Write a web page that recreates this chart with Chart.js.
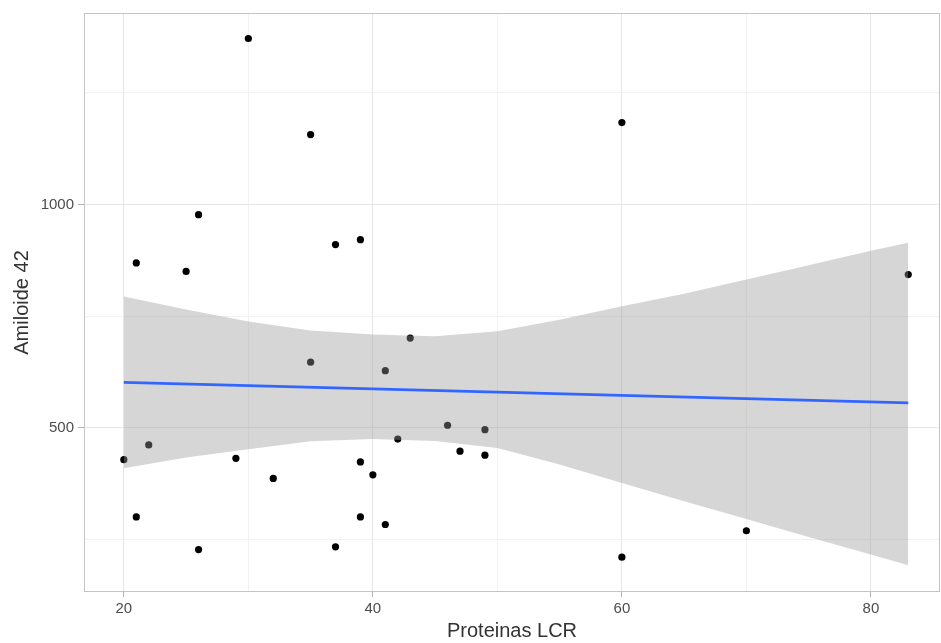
<!DOCTYPE html>
<html>
<head>
<meta charset="utf-8">
<script src="https://cdn.jsdelivr.net/npm/chart.js@4/dist/chart.umd.min.js"></script>
<style>
  html, body { margin: 0; padding: 0; background: #fff; }
  #chart { display: block; }
</style>
</head>
<body>
<canvas id="chart" width="941" height="643"></canvas>
<script>
// scatter points: Proteinas LCR vs Amiloide 42
const proteinas = [30, 35, 60, 26, 21, 25, 37, 39, 83, 35, 43, 41, 46, 49, 22,
                   20, 29, 42, 47, 49, 39, 40, 32, 21, 39, 41, 37, 26, 60, 70];
const amiloide = [1371, 1156, 1183, 977, 869, 850, 910, 921, 843, 647, 701, 628, 506, 496, 462,
                  429, 432, 475, 448, 439, 424, 395, 387, 301, 301, 284, 234, 228, 211, 270];

// fitted line (lm) and its confidence band
const fitX = [20, 83];
const fitY = [602, 556];
const bandX = [20, 25, 30, 35, 40, 45, 50, 55, 60, 65, 70, 75, 80, 83];
const bandUpper = [794, 765, 738, 718, 709, 705, 716, 742, 772, 800, 832, 864, 896, 914];
const bandLower = [410, 434, 452, 470, 475, 471, 455, 418, 377, 336, 296, 256, 217, 193];

// axis breaks: major ones get a label, minor ones only a gridline
const xMajor = [20, 40, 60, 80];
const xMinor = [30, 50, 70];
const yMajor = [500, 1000];
const yMinor = [250, 750, 1250];

const pts = (xs, ys) => xs.map((x, i) => ({ x: x, y: ys[i] }));

const panelBorder = {
    id: "panelBorder",
    afterDatasetsDraw(chart) {
        const a = chart.chartArea;
        const ctx = chart.ctx;
        ctx.save();
        ctx.strokeStyle = "#c4c4c4";
        ctx.lineWidth = 1;
        ctx.strokeRect(a.left + 0.5, a.top + 0.5, a.right - a.left - 1, a.bottom - a.top - 1);
        ctx.restore();
    },
};

const isMajor = (list, v) => list.includes(v);

new Chart(document.querySelector("#chart").getContext("2d"), {
    type: "scatter",
    data: {
        datasets: [
            {
                label: "points",
                data: pts(proteinas, amiloide),
                backgroundColor: "#000",
                borderColor: "#000",
                pointRadius: 3.6,
                pointBorderWidth: 0,
                order: 3,
            },
            {
                label: "upper",
                data: pts(bandX, bandUpper),
                showLine: true,
                pointRadius: 0,
                borderWidth: 0,
                borderColor: "rgba(0,0,0,0)",
                backgroundColor: "rgba(153,153,153,0.4)",
                fill: "+1",
                order: 2,
            },
            {
                label: "lower",
                data: pts(bandX, bandLower),
                showLine: true,
                pointRadius: 0,
                borderWidth: 0,
                borderColor: "rgba(0,0,0,0)",
                fill: false,
                order: 2,
            },
            {
                label: "fit",
                data: pts(fitX, fitY),
                showLine: true,
                pointRadius: 0,
                borderColor: "#3366FF",
                borderWidth: 2.8,
                fill: false,
                order: 1,
            },
        ],
    },
    options: {
        responsive: false,
        animation: false,
        devicePixelRatio: 1,
        layout: { autoPadding: false, padding: { top: 11, right: 1, left: 0, bottom: 0 } },
        plugins: {
            legend: { display: false },
            tooltip: { enabled: false },
        },
        scales: {
            x: {
                type: "linear",
                min: 16.8,
                max: 85.55,
                afterBuildTicks: (s) => {
                    s.ticks = [...xMajor, ...xMinor].sort((a, b) => a - b).map((v) => ({ value: v }));
                },
                afterFit: (s) => { s.height = 51; },
                ticks: {
                    autoSkip: false,
                    maxRotation: 0,
                    padding: 3,
                    color: "#4d4d4d",
                    font: { family: "Liberation Sans", size: 15 },
                    callback: (v) => (isMajor(xMajor, v) ? String(v) : ""),
                },
                grid: {
                    color: (c) => (isMajor(xMajor, c.tick.value) ? "#e6e6e6" : "#f2f2f2"),
                    lineWidth: 1,
                    tickLength: 5,
                    tickColor: (c) => (isMajor(xMajor, c.tick.value) ? "#b3b3b3" : "rgba(0,0,0,0)"),
                },
                border: { display: false },
                title: {
                    display: true,
                    text: "Proteinas LCR",
                    color: "#333",
                    font: { family: "Liberation Sans", size: 20 },
                    padding: { top: 3, bottom: 0 },
                },
            },
            y: {
                type: "linear",
                min: 133,
                max: 1428,
                afterBuildTicks: (s) => {
                    s.ticks = [...yMajor, ...yMinor].sort((a, b) => a - b).map((v) => ({ value: v }));
                },
                afterFit: (s) => { s.width = 84; },
                ticks: {
                    autoSkip: false,
                    padding: 4,
                    color: "#4d4d4d",
                    font: { family: "Liberation Sans", size: 15 },
                    callback: (v) => (isMajor(yMajor, v) ? String(v) : ""),
                },
                grid: {
                    color: (c) => (isMajor(yMajor, c.tick.value) ? "#e6e6e6" : "#f2f2f2"),
                    lineWidth: 1,
                    tickLength: 6,
                    tickColor: (c) => (isMajor(yMajor, c.tick.value) ? "#b3b3b3" : "rgba(0,0,0,0)"),
                },
                border: { display: false },
                title: {
                    display: true,
                    text: "Amiloide 42",
                    color: "#333",
                    font: { family: "Liberation Sans", size: 20 },
                    padding: { top: 10, bottom: 0 },
                },
            },
        },
    },
    plugins: [panelBorder],
});
</script>
</body>
</html>
